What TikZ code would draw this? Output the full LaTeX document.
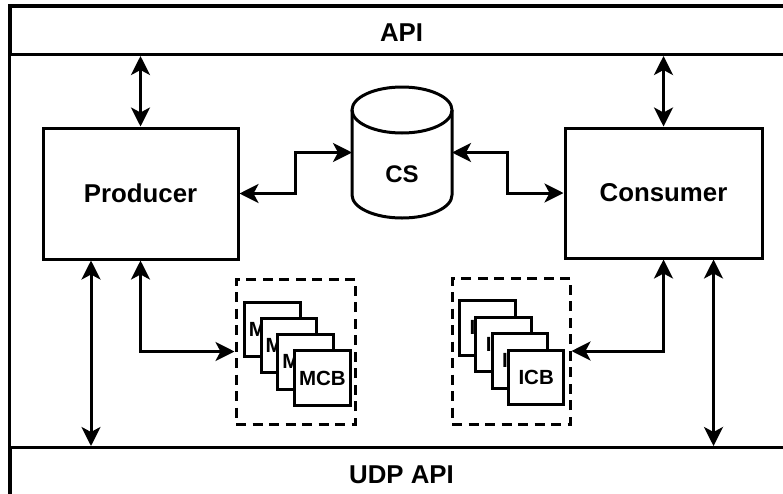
\documentclass[tikz,border=0pt]{standalone}
\usepackage{fontspec}
\setmainfont{Liberation Sans}
\usetikzlibrary{arrows.meta,calc}
\newcommand\lblbig{\fontsize{25.8}{30}\selectfont\bfseries}
\newcommand\lblcs{\fontsize{24}{28}\selectfont\bfseries}
\newcommand\lblcard{\fontsize{20.5}{24}\selectfont\bfseries}
\begin{document}
\begin{tikzpicture}[x=1pt,y=-1pt,line width=3pt,
  >={Stealth[length=19pt,width=19pt,inset=5pt]},
  link/.style={<->},
  box/.style={draw, rectangle, inner sep=0pt, font=\lblbig},
  band/.style={draw, rectangle, inner sep=0pt, anchor=north west, minimum width=785pt},
  title/.style={anchor=base, inner sep=0pt, font=\lblbig},
  group/.style={draw, rectangle, dash pattern=on 10pt off 6.5pt, inner sep=0pt},
  card/.style={draw, rectangle, fill=white, inner sep=0pt, anchor=north west,
    minimum width=55.5pt, minimum height=54.5pt, font=\lblcard}]
\useasboundingbox (0,0) rectangle (783,493);
\fill[white] (0,0) rectangle (783,493);
\clip (0,0) rectangle (783,493);

% outer frame with the two API bands
\draw (9,5) rectangle (794,505);
\node[band, minimum height=48pt] (api) at (9,5) {};
\node[band, minimum height=59pt] (udp) at (9,446) {};
\node[title] (apiText) at (401.5,41.7) {API};
\node[title] (udpText) at (401.5,483) {UDP API};

% producer and consumer
\node[box, minimum width=195pt, minimum height=131pt] (prod) at (140.5,193.5) {Producer};
\node[box, minimum width=197pt, minimum height=130pt] (cons) at (663.5,193) {Consumer};

% CS store drawn as a cylinder
\node[minimum width=100pt, minimum height=131pt, inner sep=0pt, outer sep=0pt] (cs) at (402,152.5) {};
\draw ([yshift=-23pt]cs.north) ellipse [x radius=50pt, y radius=23pt];
\draw ([yshift=-23pt]cs.north west) -- ([yshift=23pt]cs.south west)
  arc [start angle=180, end angle=360, x radius=50pt, y radius=23pt]
  -- ([yshift=-23pt]cs.north east);
\node[anchor=base, inner sep=0pt, font=\lblcs] (csText) at (402,182) {CS};

% MCB and ICB groups
\node[group, minimum width=119pt, minimum height=145pt] (mcbs) at (295.5,351.5) {};
\node[group, minimum width=118pt, minimum height=146pt] (icbs) at (511,351) {};
\foreach \k in {0,1,2,3} {
  \node[card] (mcb\k) at ({243+16.7*\k},{300.5+16.3*\k}) {MCB};
}
\foreach \k in {0,1,2,3} {
  \node[card] (icb\k) at ({458+16.3*\k},{299+16.5*\k}) {ICB};
}

% connectors
\draw[link] (prod.north) -- (prod.north |- api.south);
\draw[link] (cons.north) -- (cons.north |- api.south);
\draw[link] (prod.east) -| ($(prod.east)!.5!(cs.west)$) |- (cs.west);
\draw[link] (cs.east) -| ($(cs.east)!.5!(cons.west)$) |- (cons.west);
\coordinate (pLeft) at ($(prod.south west)!.25!(prod.south east)$);
\coordinate (cRight) at ($(cons.south west)!.75!(cons.south east)$);
\draw[link] (pLeft) -- (pLeft |- udp.north);
\draw[link] (cRight) -- (cRight |- udp.north);
\draw[link] (prod.south) |- (mcbs.west);
\draw[link] (cons.south) |- (icbs.east);
\end{tikzpicture}
\end{document}
